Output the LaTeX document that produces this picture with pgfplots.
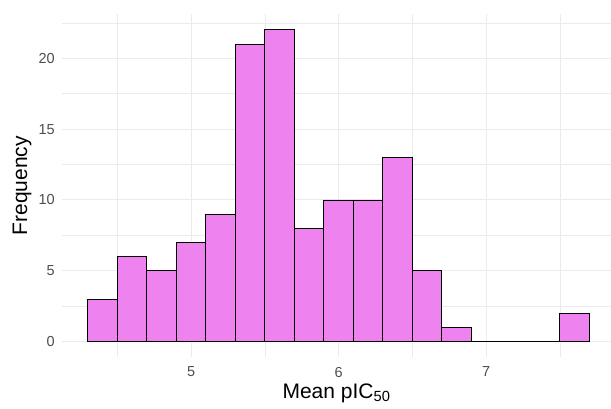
\documentclass[border=0pt]{standalone}
\usepackage{fontspec}
\setmainfont{Liberation Sans}
\usepackage{pgfplots}
\pgfplotsset{compat=1.18}
\definecolor{barfill}{HTML}{EE82EE}
\definecolor{gridgray}{HTML}{EBEBEB}
\definecolor{ticklab}{HTML}{4D4D4D}

\begin{document}
\begin{tikzpicture}
\useasboundingbox (0,0) rectangle (611pt,408pt);
\begin{axis}[
    at={(62pt,50.7pt)}, anchor=south west,
    scale only axis, width=549pt, height=343pt,
    xmin=4.125, xmax=7.847, ymin=-1.1, ymax=23.1,
    axis line style={draw=none}, tick style={draw=none},
    xtick={5,6,7}, minor xtick={4.5,5.5,6.5,7.5},
    ytick={0,5,10,15,20}, minor ytick={2.5,7.5,12.5,17.5,22.5},
    grid=both,
    major grid style={gridgray, line width=1pt},
    minor grid style={gridgray, line width=0.6pt},
    /pgf/number format/assume math mode=true,
    xticklabel style={font=\fontsize{14.5}{14.5}\selectfont, color=ticklab,
                      anchor=north, inner sep=0pt, yshift=-9.5pt},
    yticklabel style={font=\fontsize{14.5}{14.5}\selectfont, color=ticklab,
                      anchor=east, inner sep=0pt, xshift=-7pt},
    xlabel={Mean pIC\textsubscript{50}},
    xlabel style={at={(axis description cs:0.5,0)}, anchor=base,
                  yshift=-40.7pt, inner sep=0pt, font=\fontsize{21}{21}\selectfont},
    ylabel={Frequency},
    ylabel style={at={(axis description cs:-0.0729,0.5)}, anchor=center,
                  inner sep=0pt, font=\fontsize{21}{21}\selectfont},
]
% histogram counts, bin width 0.2 starting at 4.3
\addplot[ybar interval, fill=barfill, draw=black, line width=0.9pt] coordinates {
    (4.3,3) (4.5,6) (4.7,5) (4.9,7) (5.1,9) (5.3,21) (5.5,22) (5.7,8) (5.9,10)
    (6.1,10) (6.3,13) (6.5,5) (6.7,1) (6.9,0) (7.1,0) (7.3,0) (7.5,2) (7.7,2)
};
\end{axis}
\end{tikzpicture}
\end{document}
